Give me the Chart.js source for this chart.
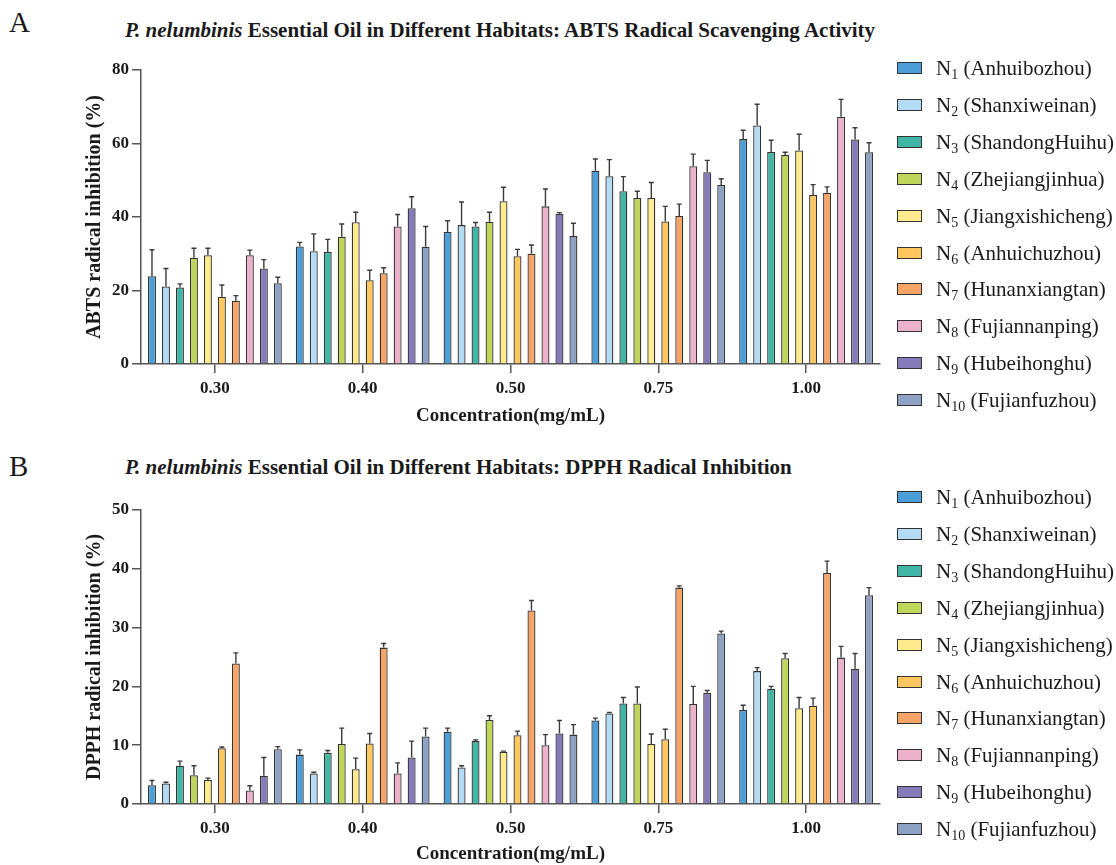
<!DOCTYPE html>
<html lang="en">
<head>
<meta charset="UTF-8">
<title>P. nelumbinis essential oil - ABTS / DPPH</title>
<script src="https://cdn.jsdelivr.net/npm/chart.js"></script>
<style>
  html, body { margin: 0; padding: 0; background: #fff; overflow: hidden; }
  body { width: 1116px; height: 865px; position: relative; font-family: "Liberation Serif", "Times New Roman", serif; color: #1a1a1a; }
  .panel { position: absolute; left: 0; width: 1116px; }
  .letter { position: absolute; left: 9px; font-size: 29px; line-height: 1; }
  .title { position: absolute; left: 125px; font-size: 21px; font-weight: bold; white-space: nowrap; line-height: 1; }
  .legend { position: absolute; left: 897px; }
  .legend .item { position: absolute; left: 0; height: 20px; white-space: nowrap; font-size: 21px; line-height: 20px; }
  .legend .sw { position: absolute; left: 0; top: 4px; width: 23px; height: 10px; border: 1.5px solid #333; }
  .legend .txt { position: absolute; left: 39px; top: 0; }
  .legend sub { font-size: 14px; vertical-align: -4px; line-height: 0; }
</style>
</head>
<body>
  <div class="letter" style="top:8px">A</div>
  <div class="title" style="top:20px"><i>P. nelumbinis</i> Essential Oil in Different Habitats: ABTS Radical Scavenging Activity</div>
  <div class="panel" style="top:0;height:440px"><canvas id="abtsChart" width="1116" height="440"></canvas></div>
  <div class="legend" id="abtsLegend" style="top:68px"></div>

  <div class="letter" style="top:452px">B</div>
  <div class="title" style="top:457px"><i>P. nelumbinis</i> Essential Oil in Different Habitats: DPPH Radical Inhibition</div>
  <div class="panel" style="top:440px;height:425px"><canvas id="dpphChart" width="1116" height="425"></canvas></div>
  <div class="legend" id="dpphLegend" style="top:497px"></div>

<script>
// concentrations on the x axis
const concentrations = ['0.30', '0.40', '0.50', '0.75', '1.00'];

// habitats (series)
const habitats = ['Anhuibozhou', 'Shanxiweinan', 'ShandongHuihu', 'Zhejiangjinhua', 'Jiangxishicheng',
                  'Anhuichuzhou', 'Hunanxiangtan', 'Fujiannanping', 'Hubeihonghu', 'Fujianfuzhou'];
const colors = ['#4c9ed9', '#b3dcf4', '#42b6a6', '#bed65a', '#ffea8c',
                '#ffc75e', '#f7a466', '#ecb1cb', '#857bba', '#8da2c4'];

// ABTS radical inhibition (%), one row per habitat, one value per concentration
const abtsMean = [
  [23.9, 32.0, 35.9, 52.6, 61.2],
  [21.1, 30.7, 37.8, 51.1, 64.9],
  [20.8, 30.5, 37.4, 47.0, 57.7],
  [28.9, 34.6, 38.7, 45.2, 56.9],
  [29.6, 38.6, 44.3, 45.2, 58.1],
  [18.3, 22.8, 29.3, 38.8, 46.0],
  [17.2, 24.7, 30.0, 40.3, 46.6],
  [29.6, 37.4, 42.9, 53.8, 67.3],
  [26.0, 42.4, 40.9, 52.2, 61.1],
  [22.0, 31.9, 34.8, 48.7, 57.6]
];
const abtsSd = [
  [7.2, 1.1, 3.1, 3.2, 2.4],
  [4.9, 4.7, 6.3, 4.5, 5.8],
  [1.0, 3.4, 1.1, 4.0, 3.2],
  [2.6, 3.5, 2.6, 1.8, 0.7],
  [1.9, 2.7, 3.8, 4.2, 4.4],
  [3.2, 2.7, 1.9, 4.1, 2.8],
  [1.4, 1.5, 2.4, 3.2, 1.6],
  [1.4, 3.3, 4.7, 3.3, 4.7],
  [2.4, 3.1, 0.3, 3.2, 3.2],
  [1.6, 5.5, 3.5, 1.7, 2.6]
];

// DPPH radical inhibition (%)
const dpphMean = [
  [3.2, 8.4, 12.3, 14.2, 16.0],
  [3.5, 5.2, 6.2, 15.4, 22.6],
  [6.5, 8.7, 10.7, 17.1, 19.6],
  [4.9, 10.2, 14.3, 17.1, 24.8],
  [4.1, 5.9, 8.9, 10.2, 16.3],
  [9.5, 10.3, 11.7, 11.0, 16.7],
  [23.9, 26.6, 32.9, 36.8, 39.3],
  [2.3, 5.2, 10.0, 17.0, 24.9],
  [4.8, 7.9, 12.0, 18.9, 23.0],
  [9.3, 11.5, 11.8, 29.0, 35.5]
];
const dpphSd = [
  [0.8, 0.8, 0.6, 0.4, 0.8],
  [0.2, 0.2, 0.3, 0.15, 0.6],
  [0.8, 0.4, 0.2, 1.0, 0.4],
  [1.6, 2.7, 0.7, 2.8, 0.8],
  [0.3, 1.9, 0.1, 1.7, 1.8],
  [0.2, 1.7, 0.7, 1.7, 1.3],
  [1.8, 0.7, 1.7, 0.3, 2.0],
  [0.8, 1.8, 1.8, 3.0, 1.9],
  [3.1, 2.8, 2.2, 0.4, 2.6],
  [0.45, 1.4, 1.7, 0.4, 1.3]
];

const abtsTicks = { max: 80, step: 20 };
const dpphTicks = { max: 50, step: 10 };

// upward error bars with a small cap
const errorBars = {
  id: 'errorBars',
  afterDatasetsDraw(chart) {
    const ctx = chart.ctx;
    const y = chart.scales.y;
    ctx.save();
    ctx.strokeStyle = '#3a3a3a';
    ctx.lineWidth = 1.4;
    chart.data.datasets.forEach((ds, i) => {
      const meta = chart.getDatasetMeta(i);
      meta.data.forEach((bar, j) => {
        const top = y.getPixelForValue(ds.data[j] + ds.sd[j]);
        ctx.beginPath();
        ctx.moveTo(bar.x, bar.y);
        ctx.lineTo(bar.x, top);
        ctx.moveTo(bar.x - 2.5, top);
        ctx.lineTo(bar.x + 2.5, top);
        ctx.stroke();
      });
    });
    ctx.restore();
  }
};

function makeChart(id, means, sds, ticks, yTitle, padBottom, xHeight) {
  const tickFont = { family: 'Liberation Serif', size: 17, weight: 'bold' };
  const xTitleFont = { family: 'Liberation Serif', size: 19, weight: 'bold' };
  const yTitleFont = { family: 'Liberation Serif', size: 20, weight: 'bold' };
  return new Chart(document.getElementById(id), {
    type: 'bar',
    data: {
      labels: concentrations,
      datasets: habitats.map((h, i) => ({
        label: 'N' + (i + 1) + ' (' + h + ')',
        data: means[i],
        sd: sds[i],
        backgroundColor: colors[i],
        borderColor: '#333',
        borderWidth: 1.3,
        categoryPercentage: 0.946,
        barPercentage: 0.57
      }))
    },
    options: {
      responsive: false,
      animation: false,
      layout: { padding: { left: 83, right: 236, top: 70, bottom: padBottom } },
      plugins: { legend: { display: false }, title: { display: false }, tooltip: { enabled: false } },
      scales: {
        x: {
          grid: { display: true, drawOnChartArea: false, offset: false, tickLength: 9, color: '#555', lineWidth: 1.5 },
          border: { display: true, color: '#555', width: 1.5 },
          ticks: { font: tickFont, color: '#1a1a1a', padding: 5 },
          title: { display: true, text: 'Concentration(mg/mL)', font: xTitleFont, color: '#1a1a1a', padding: 0 },
          afterFit(scale) { scale.height = xHeight; }
        },
        y: {
          min: 0,
          max: ticks.max,
          grid: { display: true, drawOnChartArea: false, tickLength: 9, color: '#555', lineWidth: 1.5 },
          border: { display: true, color: '#555', width: 1.5 },
          ticks: { stepSize: ticks.step, font: tickFont, color: '#1a1a1a', padding: 3 },
          title: { display: true, text: yTitle, font: yTitleFont, color: '#1a1a1a', padding: 0 },
          afterFit(scale) { scale.width = 58; }
        }
      }
    },
    plugins: [errorBars]
  });
}

function makeLegend(id) {
  const box = document.getElementById(id);
  habitats.forEach((h, i) => {
    const item = document.createElement('div');
    item.className = 'item';
    item.style.top = (i * 36.9 - 10) + 'px';
    item.innerHTML = '<span class="sw" style="background:' + colors[i] + '"></span>' +
      '<span class="txt">N<sub>' + (i + 1) + '</sub> (' + h + ')</span>';
    box.appendChild(item);
  });
}

makeChart('abtsChart', abtsMean, abtsSd, abtsTicks, 'ABTS radical inhibition (%)', 13, 63);
makeChart('dpphChart', dpphMean, dpphSd, dpphTicks, 'DPPH radical inhibition (%)', 0, 61);
makeLegend('abtsLegend');
makeLegend('dpphLegend');
</script>
</body>
</html>
